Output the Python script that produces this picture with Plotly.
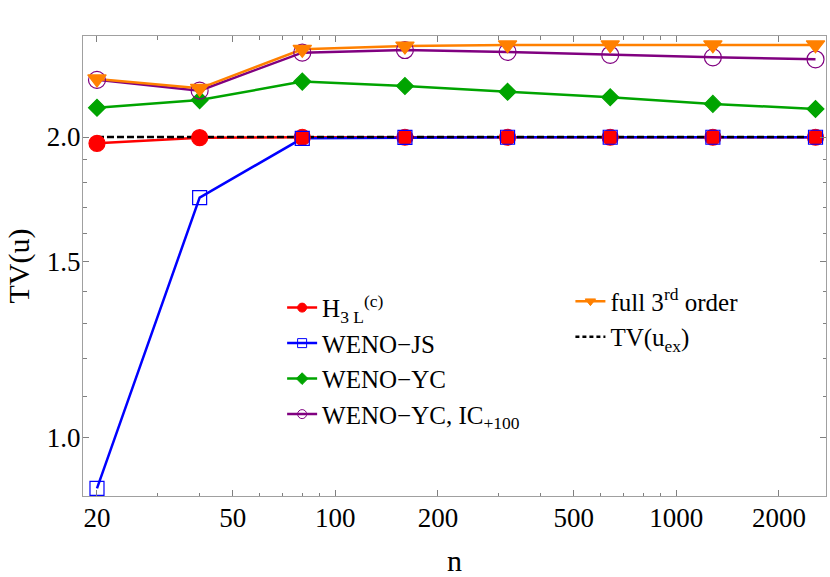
import plotly.graph_objects as go

# grid sizes and total variation of each scheme
n = [20, 40, 80, 160, 320, 640, 1280, 2560]
tv_h3l = [1.971, 1.997, 1.999, 1.999, 1.999, 1.999, 1.999, 1.999]
tv_js = [0.889, 1.739, 1.994, 1.998, 1.999, 1.999, 1.999, 1.999]
tv_yc = [2.140, 2.178, 2.273, 2.250, 2.220, 2.192, 2.159, 2.134]
tv_yc_ic = [2.282, 2.226, 2.430, 2.445, 2.434, 2.418, 2.404, 2.393]
tv_full3 = [2.287, 2.238, 2.449, 2.467, 2.474, 2.474, 2.474, 2.474]
tv_exact = [2.0, 2.0, 2.0, 2.0, 2.0, 2.0, 2.0, 2.0]

x_ticks = [20, 50, 100, 200, 500, 1000, 2000]
x_minor = [30, 40, 60, 70, 80, 90, 300, 400, 600, 700, 800, 900]
y_ticks = [1.0, 1.5, 2.0]
y_ticklabels = ["1.0", "1.5", "2.0"]
y_minor = [1.1, 1.2, 1.3, 1.4, 1.6, 1.7, 1.8, 1.9]

FONT = "Liberation Serif"
RED = "#ff0000"
BLUE = "#0000ff"
GREEN = "#00a400"
PURPLE = "#800080"
ORANGE = "#ff8000"

series = [
    ("H<sub>3 L</sub><sup>(c)</sup>", tv_h3l, RED, "circle", 16, "legend"),
    ("WENO\u2212JS", tv_js, BLUE, "square-open", 14, "legend"),
    ("WENO\u2212YC", tv_yc, GREEN, "diamond", 13, "legend"),
    ("WENO\u2212YC, IC<sub>+100</sub>", tv_yc_ic, PURPLE, "circle-open", 17, "legend"),
    ("full 3<sup>rd</sup> order", tv_full3, ORANGE, "triangle-down", 16, "legend2"),
]

fig = go.Figure()

# lines first (all of them), then the markers on top, like Mathematica does
for name, vals, col, sym, sz, lg in series:
    fig.add_trace(go.Scatter(x=n, y=vals, mode="lines", showlegend=False,
                             line=dict(color=col, width=2.5), hoverinfo="skip"))
fig.add_trace(go.Scatter(x=n, y=tv_exact, mode="lines", showlegend=False,
                         line=dict(color="black", width=2.5, dash="7px,3px")))

for name, vals, col, sym, sz, lg in series:
    fig.add_trace(go.Scatter(x=n, y=vals, mode="markers", showlegend=False,
                             marker=dict(color=col, symbol=sym, size=sz,
                                         line=dict(color=col, width=1.2))))

# legend entries only
for name, vals, col, sym, sz, lg in series:
    fig.add_trace(go.Scatter(x=[None], y=[None], mode="lines+markers", name=name,
                             legend=lg, line=dict(color=col, width=2.5),
                             marker=dict(color=col, symbol=sym, size=9,
                                         line=dict(color=col, width=1))))
fig.add_trace(go.Scatter(x=[None], y=[None], mode="lines", name="TV(u<sub>ex</sub>)",
                         legend="legend2",
                         line=dict(color="black", width=2.5, dash="4px,3px")))

axis_common = dict(showgrid=False, zeroline=False, showline=True, linecolor="#a0a0a0",
                   linewidth=1, mirror="allticks", ticks="inside", ticklen=6,
                   tickcolor="#808080", automargin=False,
                   tickfont=dict(family=FONT, size=27, color="black"))

fig.update_xaxes(type="log", range=[1.260, 3.439], tickmode="array", tickvals=x_ticks,
                 ticktext=[str(v) for v in x_ticks], ticklabelstandoff=-2,
                 minor=dict(tickmode="array", tickvals=x_minor, ticks="inside",
                            ticklen=3.5, tickcolor="#808080"),
                 title=dict(text="n", font=dict(family=FONT, size=30, color="black"),
                            standoff=20),
                 **axis_common)
fig.update_yaxes(type="log", range=[-0.0588, 0.4023], tickmode="array", tickvals=y_ticks,
                 ticktext=y_ticklabels, ticklabelstandoff=-4,
                 minor=dict(tickmode="array", tickvals=y_minor, ticks="inside",
                            ticklen=3.5, tickcolor="#808080"),
                 **axis_common)

# y axis title placed by hand
fig.add_annotation(text="TV(u)", xref="paper", yref="paper", x=-0.0855, y=0.5,
                   xanchor="center", yanchor="middle", textangle=-90, showarrow=False,
                   font=dict(family=FONT, size=30, color="black"))

legend_font = dict(family=FONT, size=25, color="black")
fig.update_layout(
    width=830, height=577,
    margin=dict(l=83, r=4, t=36, b=81, autoexpand=False),
    paper_bgcolor="white", plot_bgcolor="white",
    legend=dict(x=0.268, y=0.459, xanchor="left", yanchor="top", font=legend_font,
                bgcolor="rgba(0,0,0,0)", itemwidth=30, tracegroupgap=0),
    legend2=dict(x=0.656, y=0.473, xanchor="left", yanchor="top", font=legend_font,
                 bgcolor="rgba(0,0,0,0)", itemwidth=30, tracegroupgap=0),
)

# the page body has an 8px default margin; drop it so the figure sits at 0,0
fig.write_html("out.html", config={"displayModeBar": False},
               post_script="document.body.style.margin='0';")
